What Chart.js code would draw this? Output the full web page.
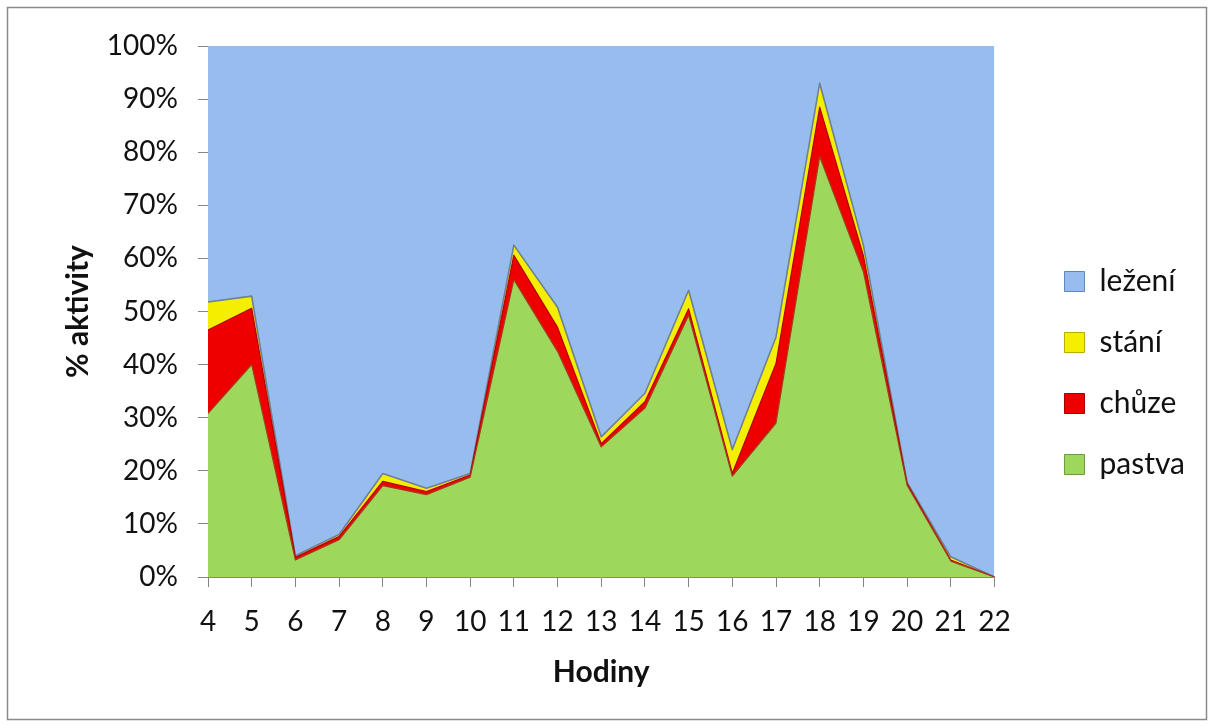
<!DOCTYPE html>
<html>
<head>
<meta charset="utf-8">
<title>Aktivita v průběhu dne</title>
<script src="https://cdn.jsdelivr.net/npm/chart.js@4.4.1/dist/chart.umd.min.js"></script>
<style>
  html, body { margin: 0; padding: 0; background: #fff; }
  #wrap { width: 1214px; height: 728px; }
</style>
</head>
<body>
<div id="wrap"><canvas id="c" width="1214" height="728"></canvas></div>
<script>
// Hours of observation
const hours = ['4','5','6','7','8','9','10','11','12','13','14','15','16','17','18','19','20','21','22'];

// Share of each activity (%) per hour
const pastva = [30.8, 40.0, 3.2, 7.0, 17.2, 15.5, 18.8, 56.0, 42.5, 24.5, 31.8, 49.3, 19.0, 29.0, 79.2, 57.5, 17.3, 3.0, 0];
const chuze  = [15.7, 10.6, 0.5, 0.6, 0.8, 0.6, 0.4, 4.6, 4.5, 0.6, 1.2, 1.2, 0.5, 11.2, 9.3, 3.0, 0.3, 0.2, 0];
const stani  = [5.3, 2.3, 0.3, 0.4, 1.5, 0.6, 0.3, 1.9, 3.8, 1.3, 1.6, 3.5, 4.5, 5.0, 4.5, 2.0, 0.2, 0.6, 0];
const lezeni = [48.2, 47.1, 96.0, 92.0, 80.5, 83.3, 80.5, 37.5, 49.2, 73.6, 65.4, 46.0, 76.0, 54.8, 7.0, 37.5, 82.2, 96.2, 100];

const seriesNames = ['pastva', 'chůze', 'stání', 'ležení'];

const FONT = 'Lato, "Open Sans", "DejaVu Sans", sans-serif';
const AXIS_GREY = '#868686';

// white background and outer frame of the chart
const framePlugin = {
  id: 'frame',
  beforeDraw(chart) {
    const { ctx } = chart;
    ctx.save();
    ctx.fillStyle = '#ffffff';
    ctx.fillRect(0, 0, chart.width, chart.height);
    ctx.strokeStyle = '#8a8a8a';
    ctx.lineWidth = 1.5;
    ctx.strokeRect(7.5, 7.5, 1199, 712);
    ctx.restore();
  }
};

function areaSet(label, data, fillColor, edgeColor, fill, width) {
  return {
    label, data,
    backgroundColor: fillColor,
    borderColor: edgeColor,
    borderWidth: width,
    fill,
    pointRadius: 0,
    pointHoverRadius: 0,
    tension: 0
  };
}

new Chart(document.getElementById('c'), {
  type: 'line',
  data: {
    labels: hours,
    datasets: [
      areaSet(seriesNames[0], pastva, '#9dd85c', '#a33a1a', 'origin', 1.2),
      areaSet(seriesNames[1], chuze,  '#ee0000', '#b30000', '-1', 1.2),
      areaSet(seriesNames[2], stani,  '#f4ee00', '#6f7f96', '-1', 1.6),
      areaSet(seriesNames[3], lezeni, '#97bdee', '#7fa3d2', '-1', 0)
    ]
  },
  options: {
    responsive: false,
    animation: false,
    devicePixelRatio: 1,
    layout: { padding: { left: 10, top: 46, right: 19, bottom: 28 } },
    elements: { line: { borderJoinStyle: 'round' } },
    plugins: {
      tooltip: { enabled: false },
      legend: {
        position: 'right',
        reverse: true,
        labels: {
          color: '#111',
          font: { family: FONT, size: 30 },
          boxWidth: 20,
          boxHeight: 20,
          padding: 31,
          generateLabels(chart) {
            const items = Chart.defaults.plugins.legend.labels.generateLabels(chart);
            const edges = ['#6f9a3c', '#a00000', '#b5ae00', '#5f86b8'];
            items.forEach(it => { it.lineWidth = 1; it.strokeStyle = edges[it.datasetIndex]; });
            return items;
          }
        }
      }
    },
    scales: {
      x: {
        type: 'category',
        offset: false,
        grid: { display: true, drawOnChartArea: false, drawTicks: true, tickLength: 10, color: AXIS_GREY },
        border: { display: true, color: AXIS_GREY, width: 1 },
        ticks: { color: '#111', font: { family: FONT, size: 28 }, padding: 18, maxRotation: 0, autoSkip: false },
        title: { display: true, text: 'Hodiny', color: '#111', font: { family: FONT, size: 30, weight: 'bold' }, padding: { top: 0, bottom: 10 } },
        afterFit(scale) { scale.height = 123; }
      },
      y: {
        stacked: true,
        min: 0,
        max: 100,
        grid: { display: true, drawOnChartArea: false, drawTicks: true, tickLength: 10, color: AXIS_GREY },
        border: { display: true, color: AXIS_GREY, width: 1 },
        ticks: { stepSize: 10, color: '#111', font: { family: FONT, size: 28 }, padding: 20, callback: v => v + '%' },
        title: { display: true, text: '% aktivity', color: '#111', font: { family: FONT, size: 30, weight: 'bold' }, padding: { top: 50, bottom: 0 } },
        afterFit(scale) { scale.width = 198; }
      },
      spacer: {
        type: 'linear',
        position: 'right',
        display: true,
        grid: { display: false },
        border: { display: false },
        ticks: { display: false },
        afterFit(scale) { scale.width = 39; }
      }
    }
  },
  plugins: [framePlugin]
});
</script>
</body>
</html>
